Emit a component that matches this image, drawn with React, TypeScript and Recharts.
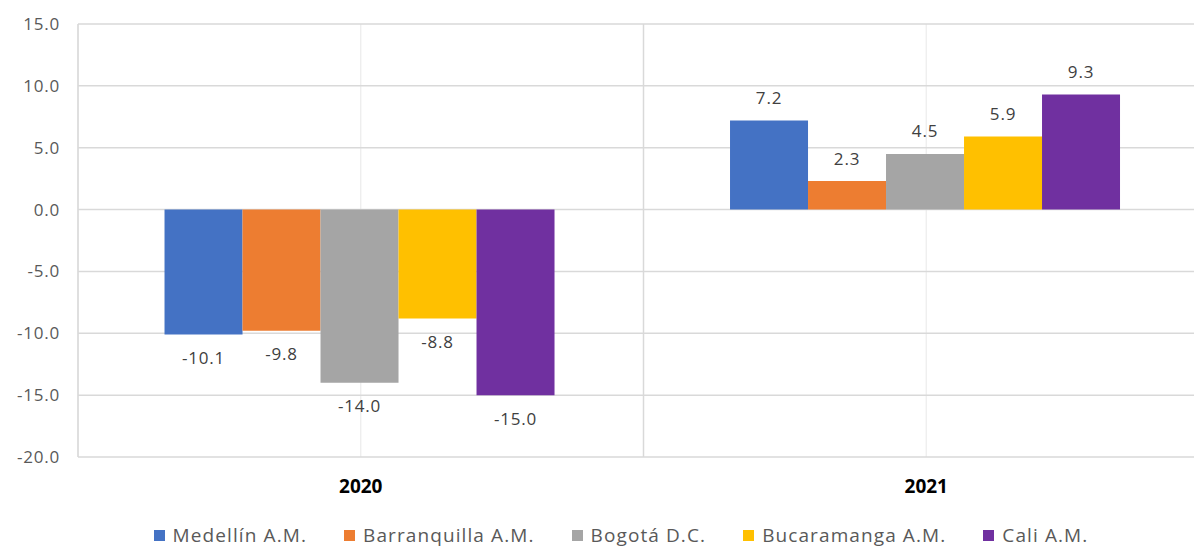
import React from 'react';
import { BarChart, Bar, XAxis, YAxis, CartesianGrid, Legend, LabelList } from 'recharts';

const categories = ['2020', '2021'];
const medellin = [-10.1, 7.2];
const barranquilla = [-9.8, 2.3];
const bogota = [-14.0, 4.5];
const bucaramanga = [-8.8, 5.9];
const cali = [-15.0, 9.3];
const yTicks = [-20, -15, -10, -5, 0, 5, 10, 15];

const seriesNames = ['Medellín A.M.', 'Barranquilla A.M.', 'Bogotá D.C.', 'Bucaramanga A.M.', 'Cali A.M.'];
const seriesKeys = ['medellin', 'barranquilla', 'bogota', 'bucaramanga', 'cali'];
const seriesColors = ['#4472C4', '#ED7D31', '#A5A5A5', '#FFC000', '#7030A0'];
const seriesValues = [medellin, barranquilla, bogota, bucaramanga, cali];

const data = categories.map((c, i) => {
  const row: Record<string, any> = { year: c };
  seriesKeys.forEach((k, j) => {
    row[k] = seriesValues[j][i];
  });
  return row;
});

const FONT = '"Open Sans", sans-serif';

const renderLabel = (props: any) => {
  const x = Number(props.x);
  const y = Number(props.y);
  const w = Number(props.width);
  const h = Number(props.height);
  const v = Number(props.value);
  const top = Math.min(y, y + h);
  const bottom = Math.max(y, y + h);
  const cy = v >= 0 ? top - 23 : bottom + 23;
  return (
    <text
      x={x + w / 2}
      y={cy}
      textAnchor="middle"
      dominantBaseline="central"
      fontFamily={FONT}
      fontSize={17}
      letterSpacing={0.8}
      fill="#404040"
    >
      {v.toFixed(1)}
    </text>
  );
};

const renderLegend = () => (
  <div
    style={{
      display: 'flex',
      justifyContent: 'center',
      alignItems: 'center',
      height: 26,
      lineHeight: '20px',
      paddingBottom: 4,
      boxSizing: 'border-box',
      fontFamily: FONT,
      fontSize: 19,
      color: '#595959',
      letterSpacing: 1.1,
      paddingLeft: 33,
    }}
  >
    {seriesNames.map((n, i) => (
      <div key={n} style={{ display: 'flex', alignItems: 'center', marginRight: i < seriesNames.length - 1 ? 37 : 0 }}>
        <span style={{ display: 'inline-block', width: 11, height: 11, background: seriesColors[i], marginRight: 8 }} />
        <span>{n}</span>
      </div>
    ))}
  </div>
);

export default function App() {
  return (
    <div style={{ position: 'fixed', left: 0, top: 0, width: 1194, height: 550, overflow: 'hidden', background: '#fff' }}>
      <BarChart
        width={1220}
        height={550}
        data={data}
        margin={{ top: 24, right: 11, left: 0, bottom: 0 }}
        barCategoryGap="15.3%"
        barGap={0}
      >
        <CartesianGrid horizontal={false} stroke="#ececec" strokeWidth={1.2} />
        <CartesianGrid
          stroke="#d9d9d9"
          strokeWidth={1.5}
          verticalCoordinatesGenerator={({ offset }: any) => [
            offset.left,
            offset.left + offset.width / 2,
            offset.left + offset.width,
          ]}
        />
        <XAxis
          dataKey="year"
          axisLine={false}
          tickLine={false}
          height={67}
          tickMargin={17}
          tick={{ fontFamily: FONT, fontSize: 19, fontWeight: 700, fill: '#000000' }}
        />
        <YAxis
          domain={[-20, 15]}
          ticks={yTicks}
          interval={0}
          axisLine={false}
          tickLine={false}
          width={78}
          tickMargin={12}
          tickFormatter={(v: number) => v.toFixed(1)}
          tick={{ fontFamily: FONT, fontSize: 17, fill: '#595959', letterSpacing: 0.8 }}
        />
        <Legend verticalAlign="bottom" content={renderLegend} />
        {seriesKeys.map((k, i) => (
          <Bar key={k} dataKey={k} name={seriesNames[i]} fill={seriesColors[i]} isAnimationActive={false}>
            <LabelList dataKey={k} content={renderLabel} />
          </Bar>
        ))}
      </BarChart>
    </div>
  );
}
